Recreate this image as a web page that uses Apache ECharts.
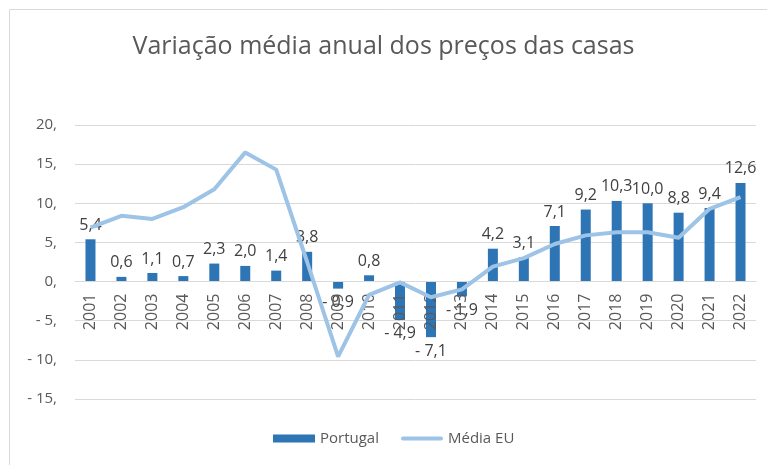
<!DOCTYPE html>
<html>
<head>
<meta charset="utf-8">
<script src="https://cdn.jsdelivr.net/npm/echarts@6/dist/echarts.min.js"></script>
<style>
  html, body { margin: 0; padding: 0; background: #fff; }
  #chart { width: 767px; height: 465px; }
</style>
</head>
<body>
<div id="chart"></div>
<script>
// dados
const anos = ['2001', '2002', '2003', '2004', '2005', '2006', '2007', '2008', '2009', '2010', '2011',
    '2012', '2013', '2014', '2015', '2016', '2017', '2018', '2019', '2020', '2021', '2022'];
const portugal = [5.4, 0.6, 1.1, 0.7, 2.3, 2.0, 1.4, 3.8, -0.9, 0.8, -4.9,
    -7.1, -1.9, 4.2, 3.1, 7.1, 9.2, 10.3, 10.0, 8.8, 9.4, 12.6];
const mediaEU = [6.9, 8.4, 8.0, 9.5, 11.8, 16.5, 14.3, 2.5, -9.6, -1.7, -0.1,
    -2.0, -1.0, 1.9, 3.0, 4.8, 5.9, 6.3, 6.3, 5.6, 9.3, 10.8];
const yMin = -15, yMax = 20;

// formato estilo Excel: "- 4,9"
function fmtNum(v, casas) {
    const s = Math.abs(v).toFixed(casas).replace('.', ',');
    return v < 0 ? '- ' + s : s;
}

const chart = echarts.init(document.getElementById('chart'));
const corTexto = '#595959';
const fonte = '"Open Sans", "Noto Sans", sans-serif';
const gridTop = 125, gridBottom = 66;
// o eixo das categorias fica na linha do zero
const alturaGrid = 465 - gridTop - gridBottom;
const offsetZero = -alturaGrid * (0 - yMin) / (yMax - yMin);

chart.setOption({
    animation: false,
    textStyle: { fontFamily: fonte },
    title: {
        text: 'Variação média anual dos preços das casas',
        left: 'center',
        top: 29,
        textStyle: { fontSize: 25, fontWeight: 'normal', color: corTexto, fontFamily: fonte }
    },
    graphic: [{
        type: 'rect',
        shape: { x: 9.5, y: 9.5, width: 800, height: 500 },
        style: { fill: 'none', stroke: '#d9d9d9', lineWidth: 1 },
        silent: true
    }],
    legend: {
        bottom: 14,
        left: 268,
        itemGap: 22,
        itemWidth: 42,
        itemHeight: 8,
        textStyle: { fontSize: 15, color: corTexto, fontFamily: fonte },
        data: [
            { name: 'Portugal', icon: 'rect' },
            { name: 'Média EU', icon: 'path://M2,0 H40 A2,2 0 0 1 40,4 H2 A2,2 0 0 1 2,0 Z' }
        ]
    },
    grid: { left: 75, right: 11, top: gridTop, bottom: gridBottom },
    xAxis: {
        type: 'category',
        data: anos,
        position: 'bottom',
        offset: offsetZero,
        z: 3,
        axisLine: { show: true, onZero: false, lineStyle: { color: '#d9d9d9' } },
        axisTick: { show: false },
        axisLabel: { rotate: 90, fontSize: 16, color: corTexto, margin: 12, fontFamily: fonte }
    },
    yAxis: {
        type: 'value',
        min: yMin,
        max: yMax,
        interval: 5,
        axisLine: { show: false },
        axisTick: { show: false },
        splitLine: { lineStyle: { color: '#d9d9d9', width: 1 } },
        axisLabel: {
            fontSize: 15,
            color: corTexto,
            margin: 18,
            fontFamily: fonte,
            formatter: function (v) { return fmtNum(v, 0) + ','; }
        }
    },
    series: [{
        name: 'Portugal',
        type: 'bar',
        // rótulos dos valores negativos ficam por baixo da barra
        data: portugal.map(function (v) {
            return v < 0 ? { value: v, label: { position: 'bottom' } } : v;
        }),
        barWidth: 10,
        itemStyle: { color: '#2e75b6' },
        label: {
            show: true,
            position: 'top',
            distance: 6,
            fontSize: 16,
            color: '#404040',
            fontFamily: fonte,
            formatter: function (p) { return fmtNum(p.value, 1); }
        }
    }, {
        name: 'Média EU',
        type: 'line',
        data: mediaEU,
        symbol: 'none',
        lineStyle: { color: '#9dc3e6', width: 4 },
        itemStyle: { color: '#9dc3e6' },
        z: 4
    }]
});
</script>
</body>
</html>
